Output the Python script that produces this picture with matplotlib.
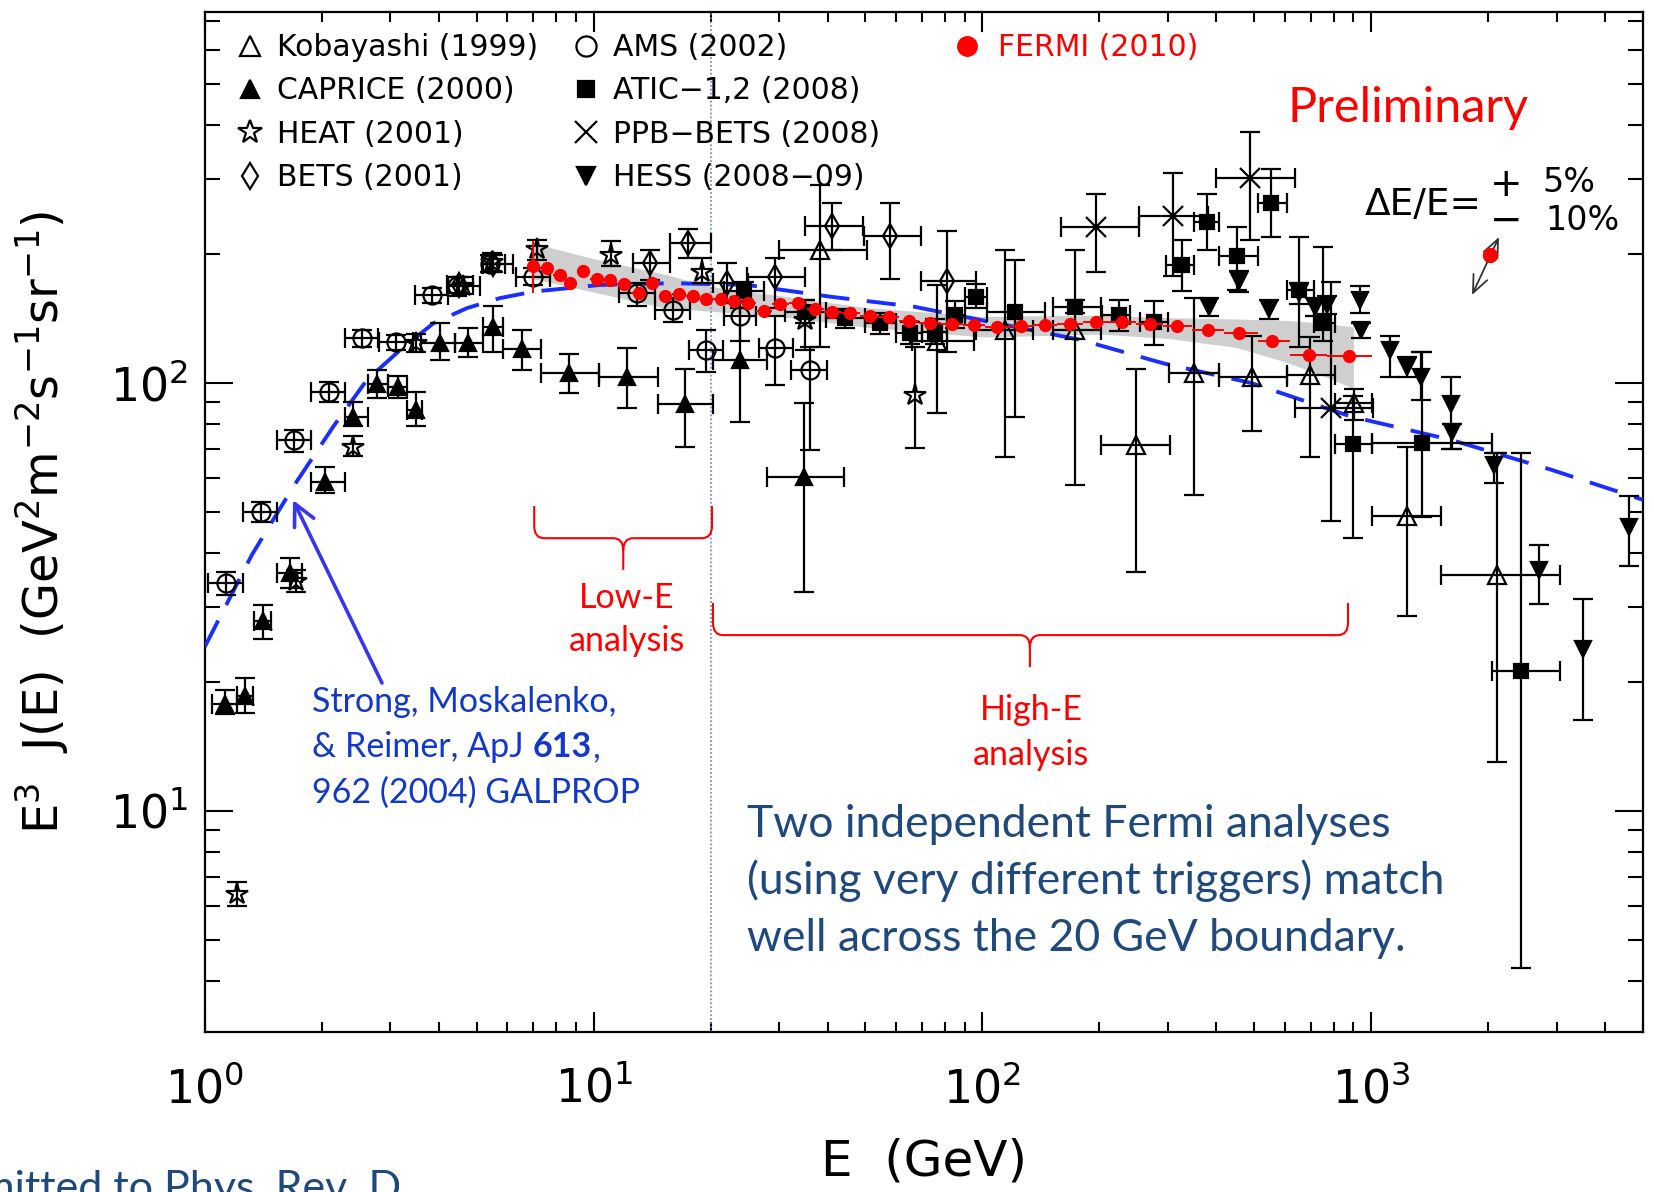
import numpy as np
import matplotlib.pyplot as plt
from matplotlib.lines import Line2D
from matplotlib.path import Path
from matplotlib.patches import PathPatch
from matplotlib.ticker import LogLocator, NullFormatter

# energies in GeV, flux as E^3 J(E) in GeV^2 m^-2 s^-1 sr^-1
ams_E = [1.13, 1.39, 1.69, 2.08, 2.53, 3.11, 3.83, 4.44, 5.42, 7.0, 12.9, 16.0, 19.5, 23.8, 29.3, 36.1]
ams_F = [34.1, 50.0, 73.6, 95.4, 127.6, 124.5, 160.5, 168.8, 190, 177, 162, 148, 119.4, 143, 120.5, 107.2]
ams_Elo = [1.02, 1.25, 1.53, 1.87, 2.29, 2.80, 3.47, 4.23, 5.15, 6.33, 11.6, 14.4, 17.6, 21.6, 26.6, 32.2]
ams_Ehi = [1.25, 1.53, 1.87, 2.29, 2.78, 3.43, 4.23, 5.10, 6.20, 7.70, 14.4, 17.7, 21.5, 26.2, 32.6, 39.8]
ams_Flo = [32.0, 47.4, 69.1, 90.4, 121.6, 119.5, 154, 160, 182, 169.5, 151, 139, 106, 125, 99, 69.8]
ams_Fhi = [36.2, 52.8, 77.6, 100.7, 133, 129.5, 166.3, 177, 199.3, 185.5, 171, 158, 133, 149.5, 143, 121.6]

cap_E = [1.126, 1.268, 1.41, 1.655, 2.04, 2.41, 2.77, 3.13, 3.5, 4.03, 4.76, 5.5, 6.53, 8.65, 12.17, 17.2, 23.8, 34.7]
cap_F = [17.8, 18.5, 27.7, 35.9, 58.8, 83.1, 99.3, 97.7, 86.5, 123.8, 124, 135.4, 119.8, 105.7, 103.4, 89.3, 113, 60.4]
cap_Elo = [1.04, 1.21, 1.34, 1.53, 1.87, 2.29, 2.62, 2.96, 3.30, 3.60, 4.40, 5.20, 5.85, 7.30, 10.3, 14.6, 20.3, 27.9]
cap_Ehi = [1.21, 1.33, 1.48, 1.78, 2.29, 2.62, 2.96, 3.30, 3.62, 4.40, 5.20, 5.85, 7.30, 10.3, 14.6, 20.3, 27.9, 44.0]
cap_Flo = [16.8, 16.9, 25.2, 33.1, 55.3, 79.1, 92, 92, 79.1, 113, 115, 118, 107, 94.6, 87.3, 71, 81.2, 32.4]
cap_Fhi = [19.2, 20.4, 30.3, 39.0, 63.5, 90.4, 107, 104, 95.4, 138, 134, 151, 133, 117, 120.5, 108, 159, 89.6]

heat_E = [1.21, 1.72, 2.41, 3.5, 4.62, 5.47, 7.14, 11.1, 19.0, 35.0, 67.2]
heat_F = [6.4, 34.4, 71.0, 124, 168.8, 192, 205, 199, 182, 140, 93.8]
heat_Flo = [6.0, 32.5, 67.5, 118, 161, 183, 194, 188, 171, 119.4, 70.4]
heat_Fhi = [6.8, 36.5, 75, 130, 177, 201, 216, 214, 196, 156, 121.6]

bets_E = [4.5, 5.5, 14.0, 17.5, 22.0, 29.3, 41.0, 57.8, 81.2]
bets_F = [169, 190, 190.5, 212, 171, 176.6, 232, 220, 172.6]
bets_Elo = [4.2, 5.2, 12.6, 15.7, 20.3, 24.8, 35.0, 49.7, 69.5]
bets_Ehi = [4.9, 5.9, 15.7, 20.0, 25.0, 35.0, 49.3, 69.5, 96.5]
bets_Flo = [162, 182, 174, 196, 154, 150, 204, 175, 118]
bets_Fhi = [177, 199, 204, 229, 191, 196, 263, 263, 227]

kob_E = [38.3, 76.4, 114, 173.5, 247.6, 350, 494, 698, 903, 1239, 2104]
kob_F = [204.5, 125, 133, 133, 71.6, 105.3, 103.4, 104.4, 89.7, 48.8, 35.6]
kob_Elo = [30, 66, 96, 152, 202, 302, 405, 607, 806, 1003, 1510]
kob_Ehi = [50.5, 95, 135, 202, 303, 405, 607, 806, 1003, 1510, 3055]
kob_Flo = [121, 85, 67, 57.8, 36.1, 54.7, 77, 67, 82, 28.5, 13.0]
kob_Fhi = [290, 169.6, 204, 204, 108, 158, 129, 128, 97, 70.8, 68.4]

atic_E = [24.3, 35, 44.4, 54.6, 65.3, 75.7, 85.2, 96, 121.6, 173.5, 224.4, 276, 326.6, 378.6,
          450.6, 553.5, 652, 753, 900, 1355, 2426]
atic_F = [163.6, 146.8, 141.5, 137.9, 131, 131.8, 144, 159, 146.7, 150.7, 144, 139, 188.7, 238,
          198, 263.7, 164.8, 138.2, 72, 72.2, 21.2]
atic_Elo = [21.6, 31, 39.5, 50, 60, 70, 81, 90, 103, 152, 203, 254, 297, 351, 405, 510, 607, 711, 806, 1003, 2040]
atic_Ehi = [27.4, 39.5, 50, 60, 70, 81, 90, 103, 145, 202, 240, 300, 351, 405, 510, 607, 711, 806, 1003, 2040, 3055]
atic_Flo = [155, 138, 134, 130, 123, 123, 134, 150, 83, 146, 132, 122.6, 163.6, 204.5, 165, 219, 121.6, 125, 43.4, 48.7, 4.3]
atic_Fhi = [172, 156, 149, 146, 139, 141, 155, 170, 194, 156, 156, 155, 216, 277, 231, 316, 219, 208, 93, 118, 68.4]

ppb_E = [196.5, 309.6, 489, 787]
ppb_F = [231.7, 245, 300.8, 87.4]
ppb_Elo = [159, 253, 400, 637]
ppb_Ehi = [253, 380, 637, 1010]
ppb_Flo = [182, 178, 216, 47.5]
ppb_Fhi = [277, 309, 385, 172]

hess_E = [382, 457, 546, 652, 717, 771, 936, 944, 1118, 1234, 1345, 1608, 1618, 2070, 2700, 3514, 4600]
hess_F = [150.6, 172.6, 148.5, 162, 150.6, 152, 156, 133, 119.4, 109.2, 103.4, 89.3, 76.9, 64.3, 36.6, 23.9, 46]
hess_Flo = [143, 163, 141, 153, 143, 145, 146, 127, 103, 103, 91, 70, 70, 58.3, 30.4, 16.3, 37.4]
hess_Fhi = [158, 183, 156, 171, 158, 160, 168, 138, 129, 115, 118, 103, 80, 68.6, 41.9, 31.2, 54.5]

fermi_E = [7.0, 7.58, 8.17, 8.7, 9.4, 10.2, 11.0, 12.0, 13.1, 14.1, 15.3, 16.6, 18.0,
           19.5, 21.2, 22.9, 25.0, 27.4, 30.2, 33.5, 37.2, 41.0, 45.7, 51.3, 57.4, 64.6, 73.2, 83.5, 95.0,
           109, 125.3, 144.5, 168, 195.4, 229, 269.4, 317, 380, 457, 557, 692, 877]
fermi_F = [187.5, 186, 178.6, 171, 183, 174.6, 174, 170, 162.6, 171.5, 159.6, 161, 159.6,
           156.9, 157, 155.6, 154, 147.6, 153, 153.5, 148.6, 146.7, 145.5, 143.6, 142.4, 139.8, 137.9, 137.4, 136.6,
           135.4, 135.8, 136.6, 137.4, 138.4, 138.4, 137.4, 136, 133, 130.7, 125.3, 116.3, 115.6]
fermi_edges = [6.75, 7.28, 7.87, 8.43, 9.04, 9.79, 10.6, 11.5, 12.5, 13.6, 14.7, 15.9, 17.3, 18.7,
               20.3, 22.0, 23.9, 26.2, 28.8, 31.8, 35.3, 39.1, 43.3, 48.4, 54.3, 60.9, 68.8, 78.2, 89.1, 101.8,
               116.9, 134.6, 155.8, 181.2, 211.5, 248.4, 292, 347, 418, 510, 620, 771, 1003]
fermi_first_bar = (162, 214)

# systematic band around the Fermi points
band_E = [7.0, 10, 15, 20, 30, 50, 100, 200, 300, 450, 600, 750, 900]
band_lo = [175, 163, 150, 147, 143, 135, 128, 130, 127, 121, 112, 104, 97]
band_hi = [212, 195, 180, 168, 160, 150, 143, 144, 142, 141, 140, 138, 135]

# GALPROP model curve
gal_E = [1.0, 1.32, 1.69, 2.14, 2.61, 3.18, 3.87, 4.72, 5.74, 7.0, 10.4, 16, 24.8, 40.6, 66.6,
         109, 179, 293, 490, 885, 1603, 2898, 5000]
gal_F = [24.2, 39.6, 57.3, 79.1, 101.6, 119.4, 137.8, 149.5, 157.8, 163.4, 169.4, 171, 169.4, 159,
         150.7, 137.8, 126, 111, 100, 83.5, 73.6, 62.7, 53.3]

E_split = 20.0

W, H = 1654, 1192
fig = plt.figure(figsize=(W / 100, H / 100), dpi=100)
ax = fig.add_axes([0.1239, 0.1342, 0.8694, 0.8560])
ax.set_xscale('log')
ax.set_yscale('log')
ax.set_xlim(1, 5000)
ax.set_ylim(3.04, 737)


def fx(px):
    return px / W


def fy(py):
    return 1 - py / H


styles = {
    'kob': dict(marker='^', ms=13, mfc='none'),
    'cap': dict(marker='^', ms=11.5, mfc='k'),
    'heat': dict(marker='*', ms=16, mfc='none'),
    'bets': dict(marker='d', ms=12, mfc='none'),
    'ams': dict(marker='o', ms=13, mfc='none'),
    'atic': dict(marker='s', ms=10.5, mfc='k'),
    'ppb': dict(marker='x', ms=15, mfc='k'),
    'hess': dict(marker='v', ms=11.5, mfc='k'),
}


def draw_set(key, E, F, Flo, Fhi, Elo=None, Ehi=None):
    E = np.asarray(E)
    F = np.asarray(F)
    yerr = [F - np.asarray(Flo), np.asarray(Fhi) - F]
    xerr = None
    if Elo is not None:
        xerr = [E - np.asarray(Elo), np.asarray(Ehi) - E]
    st = styles[key]
    ax.errorbar(E, F, xerr=xerr, yerr=yerr, fmt=st['marker'], ms=st['ms'],
                mfc=st['mfc'], mec='k', mew=1.6, ecolor='k', elinewidth=1.6,
                capsize=7, capthick=1.6, zorder=4)


# Fermi systematic band and the GALPROP curve underneath the data
ax.fill_between(band_E, band_lo, band_hi, color='#cfcfcf', lw=0, zorder=1)
ax.plot(gal_E, gal_F, color='#1a2eff', lw=2.8, ls=(0, (7.5, 4.5)), zorder=3)
ax.axvline(E_split, color='#5b84c4', lw=1.1, ls=(0, (1.2, 1.4)), zorder=2)

draw_set('ams', ams_E, ams_F, ams_Flo, ams_Fhi, ams_Elo, ams_Ehi)
draw_set('cap', cap_E, cap_F, cap_Flo, cap_Fhi, cap_Elo, cap_Ehi)
draw_set('heat', heat_E, heat_F, heat_Flo, heat_Fhi)
draw_set('bets', bets_E, bets_F, bets_Flo, bets_Fhi, bets_Elo, bets_Ehi)
draw_set('kob', kob_E, kob_F, kob_Flo, kob_Fhi, kob_Elo, kob_Ehi)
draw_set('atic', atic_E, atic_F, atic_Flo, atic_Fhi, atic_Elo, atic_Ehi)
draw_set('ppb', ppb_E, ppb_F, ppb_Flo, ppb_Fhi, ppb_Elo, ppb_Ehi)
draw_set('hess', hess_E, hess_F, hess_Flo, hess_Fhi)

# Fermi points with their energy bins
fE = np.asarray(fermi_E)
edges = np.asarray(fermi_edges)
ax.errorbar(fE, fermi_F, xerr=[fE - edges[:-1], edges[1:] - fE], fmt='o', ms=8.5,
            color='#ff0000', mec='#ff0000', elinewidth=1.4, capsize=0, zorder=6)
ax.errorbar([fermi_E[0]], [fermi_F[0]],
            yerr=[[fermi_F[0] - fermi_first_bar[0]], [fermi_first_bar[1] - fermi_F[0]]],
            fmt='none', ecolor='#ff0000', elinewidth=1.4, capsize=0, zorder=6)

# axes styling
for s in ax.spines.values():
    s.set_linewidth(1.6)
ax.xaxis.set_major_locator(LogLocator(base=10, numticks=10))
ax.xaxis.set_minor_locator(LogLocator(base=10, subs=np.arange(2, 10), numticks=20))
ax.yaxis.set_minor_locator(LogLocator(base=10, subs=np.arange(2, 10), numticks=20))
ax.xaxis.set_minor_formatter(NullFormatter())
ax.yaxis.set_minor_formatter(NullFormatter())
ax.tick_params(which='both', direction='in', top=True, right=True, width=1.5, labelsize=33)
ax.tick_params(axis='x', which='major', length=14.5, pad=25)
ax.tick_params(axis='x', which='minor', length=7.2)
ax.tick_params(axis='y', which='major', length=20, pad=12)
ax.tick_params(axis='y', which='minor', length=11)

fig.text(fx(924), fy(1161), 'E  (GeV)', ha='center', va='center', fontsize=36)
fig.text(fx(42), fy(522), r'E$^3$  J(E)  (GeV$^2$m$^{-2}$s$^{-1}$sr$^{-1}$)',
         rotation=90, ha='center', va='center', fontsize=34.5)

# legends
def handle(key):
    st = styles[key]
    return Line2D([], [], ls='none', marker=st['marker'], ms=st['ms'] + 1.5, mfc=st['mfc'],
                  mec='k', mew=1.6)


leg_kw = dict(loc='upper left', frameon=False, borderpad=0, borderaxespad=0,
              handlelength=1.0, handletextpad=0.4, labelspacing=0.48, fontsize=21.5)
leg1 = ax.legend([handle(k) for k in ['kob', 'cap', 'heat', 'bets']],
                 ['Kobayashi (1999)', 'CAPRICE (2000)', 'HEAT (2001)', 'BETS (2001)'],
                 bbox_to_anchor=(0.0209, 0.979), **leg_kw)
ax.add_artist(leg1)
leg2 = ax.legend([handle(k) for k in ['ams', 'atic', 'ppb', 'hess']],
                 ['AMS (2002)', 'ATIC\u22121,2 (2008)', 'PPB\u2212BETS (2008)', 'HESS (2008\u221209)'],
                 bbox_to_anchor=(0.2545, 0.979), **leg_kw)
ax.add_artist(leg2)
fermi_h = Line2D([], [], ls='none', marker='o', ms=14, color='#ff0000')
leg3 = ax.legend([fermi_h], ['FERMI (2010)'], bbox_to_anchor=(0.5195, 0.979),
                 labelcolor='#ff0000', handletextpad=0.55,
                 **{k: v for k, v in leg_kw.items() if k != 'handletextpad'})

# annotations
red = '#ff0000'
fig.text(fx(1288), fy(122), 'Preliminary', color=red, fontsize=35, family='Lato', va='baseline')

fs_small = 24.5
fig.text(fx(627), fy(608), 'Low-E', color=red, fontsize=fs_small, family='Lato', ha='center', va='baseline')
fig.text(fx(627), fy(651), 'analysis', color=red, fontsize=fs_small, family='Lato', ha='center', va='baseline')
fig.text(fx(1031), fy(720), 'High-E', color=red, fontsize=fs_small, family='Lato', ha='center', va='baseline')
fig.text(fx(1031), fy(765), 'analysis', color=red, fontsize=fs_small, family='Lato', ha='center', va='baseline')


def brace(x0, xt, x1, y_top, y_mid, y_tip, rx=0.007, ry=0.012):
    verts = [(x0, y_top), (x0, y_mid + ry), (x0, y_mid), (x0 + rx, y_mid),
             (xt - rx, y_mid), (xt, y_mid), (xt, y_mid - ry), (xt, y_tip),
             (x1, y_top), (x1, y_mid + ry), (x1, y_mid), (x1 - rx, y_mid),
             (xt + rx, y_mid), (xt, y_mid), (xt, y_mid - ry)]
    codes = [Path.MOVETO, Path.LINETO, Path.CURVE3, Path.CURVE3,
             Path.LINETO, Path.CURVE3, Path.CURVE3, Path.LINETO,
             Path.MOVETO, Path.LINETO, Path.CURVE3, Path.CURVE3,
             Path.LINETO, Path.CURVE3, Path.CURVE3]
    ax.add_patch(PathPatch(Path(verts, codes), fill=False, ec=red, lw=1.5,
                           transform=ax.transAxes, clip_on=False, zorder=5))


brace(0.229, 0.2909, 0.3526, 0.5155, 0.484, 0.453)
brace(0.3533, 0.5737, 0.7949, 0.4205, 0.389, 0.3577)

blue_txt = '#1238c8'
fig.text(fx(312), fy(712), 'Strong, Moskalenko,', color=blue_txt, fontsize=fs_small, family='Lato', va='baseline')
t_a = fig.text(fx(312), fy(757), '& Reimer, ApJ ', color=blue_txt, fontsize=fs_small, family='Lato', va='baseline')
t_b = ax.annotate('613', xy=(1, 0), xycoords=t_a, color=blue_txt, fontsize=fs_small, family='Lato',
                  fontweight='bold', va='bottom', ha='left', annotation_clip=False)
ax.annotate(',', xy=(1, 0), xycoords=t_b, color=blue_txt, fontsize=fs_small, family='Lato',
            va='bottom', ha='left', annotation_clip=False)
fig.text(fx(312), fy(803), '962 (2004) GALPROP', color=blue_txt, fontsize=fs_small, family='Lato', va='baseline')
ax.annotate('', xy=(fx(293), fy(500)), xycoords='figure fraction',
            xytext=(fx(382), fy(683)), textcoords='figure fraction',
            arrowprops=dict(arrowstyle='->,head_length=0.7,head_width=0.35', color='#3535f2',
                            lw=2.6, mutation_scale=22, shrinkA=0, shrinkB=0))

navy = '#1f497d'
for line, yb in zip(['Two independent Fermi analyses',
                     '(using very different triggers) match',
                     'well across the 20 GeV boundary.'], [837, 894, 951]):
    fig.text(fx(747), fy(yb), line, color=navy, fontsize=32, family='Lato', va='baseline')
fig.text(fx(401), fy(1201), 'Submitted to Phys. Rev. D', color=navy, fontsize=31,
         family='Lato', ha='right', va='baseline')

# energy-scale uncertainty note
fig.text(fx(1365), fy(215), '\u0394E/E=', fontsize=27, va='baseline')
fig.text(fx(1506), fy(185), '+', fontsize=28, ha='center', va='center')
fig.text(fx(1506), fy(221), '\u2212', fontsize=28, ha='center', va='center')
fig.text(fx(1542), fy(183), '5%', fontsize=24, va='center')
fig.text(fx(1545), fy(221), '10%', fontsize=24, va='center')
ax.annotate('', xy=(fx(1499), fy(237)), xycoords='figure fraction',
            xytext=(fx(1472), fy(295)), textcoords='figure fraction',
            arrowprops=dict(arrowstyle='<->,head_length=0.7,head_width=0.3', color='#333333',
                            lw=1.3, mutation_scale=18, shrinkA=0, shrinkB=0))
fig.add_artist(Line2D([fx(1490)], [fy(255)], ls='none', marker='o', ms=10, color=red,
                      transform=fig.transFigure))

fig.savefig('out.png', dpi=100)
